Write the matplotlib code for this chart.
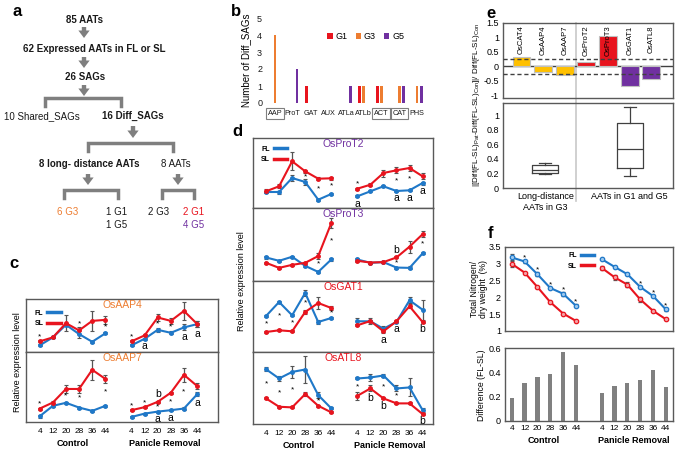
import numpy as np
import matplotlib
matplotlib.use('Agg')
import matplotlib.pyplot as plt
from matplotlib.lines import Line2D

plt.rcParams['font.family'] = ['Liberation Sans', 'DejaVu Sans']

"""
Data
"""

BLUE = '#1f78c8'
RED = '#e8141e'
ORANGE = '#ed7d31'
PURPLE = '#7030a0'
GOLD = '#ffc000'
FRAME = '#595959'

# panel b
B_CATS = ['AAP', 'ProT', 'GAT', 'AUX', 'ATLa', 'ATLb', 'ACT', 'CAT', 'PHS']
B_G1 = [0, 0, 1, 0, 0, 1, 1, 0, 0]
B_G3 = [4, 0, 0, 0, 0, 1, 1, 1, 1]
B_G5 = [0, 2, 0, 0, 1, 0, 0, 1, 1]
B_BOXED = ['AAP', 'ACT', 'CAT']

# panels c, d: 6 control days then 6 panicle removal days
DAYS = ['4', '12', '20', '28', '36', '44']
GROUPS = ['Control', 'Panicle Removal']

AAP4_FL = [0.67, 1.47, 2.73, 1.8, 1.03, 1.87, 0.67, 1.33, 2.23, 1.93, 2.47, 2.8]
AAP4_FL_ERR = [0.1, 0.1, 0.15, 0.35, 0.1, 0.1, 0.1, 0.1, 0.2, 0.15, 0.3, 0.3]
AAP4_SL = [1.07, 1.47, 2.9, 2.17, 3.13, 3.23, 1.07, 1.67, 3.47, 3.13, 4.13, 2.83]
AAP4_SL_ERR = [0.1, 0.1, 0.8, 0.35, 1.0, 0.4, 0.1, 0.1, 0.4, 0.3, 0.9, 0.3]
AAP4_STARS = [0, 3, 5, 6, 8, 9]
AAP4_LETTERS = [(7, 'a', 'below'), (10, 'a', 'below'), (11, 'a', 'below')]

AAP7_FL = [0.57, 1.6, 1.9, 1.43, 1.1, 1.6, 0.5, 0.83, 1.03, 1.17, 1.33, 2.73]
AAP7_FL_ERR = [0.15, 0.1, 0.1, 0.1, 0.1, 0.1, 0.1, 0.1, 0.1, 0.1, 0.15, 0.2]
AAP7_SL = [1.33, 1.93, 3.27, 3.27, 5.17, 4.27, 1.17, 1.47, 2.0, 2.9, 4.67, 3.57]
AAP7_SL_ERR = [0.1, 0.1, 0.35, 0.35, 1.0, 0.4, 0.1, 0.1, 0.1, 0.1, 0.7, 0.3]
AAP7_STARS = [0, 2, 3, 5, 6, 7, 8, 9, 10]
AAP7_LETTERS = [(8, 'b', 'above'), (8, 'a', 'below'), (9, 'a', 'below'), (11, 'a', 'below')]

PROT2_FL = [1.6, 1.6, 3.0, 2.6, 0.83, 1.4, 1.17, 1.67, 2.17, 1.7, 1.77, 2.5]
PROT2_FL_ERR = [0.1, 0.15, 0.3, 0.3, 0.1, 0.1, 0.1, 0.1, 0.1, 0.1, 0.1, 0.15]
PROT2_SL = [1.67, 2.17, 4.67, 3.67, 2.93, 2.97, 1.93, 2.33, 3.5, 3.77, 4.0, 3.17]
PROT2_SL_ERR = [0.2, 0.2, 0.9, 0.15, 0.15, 0.15, 0.1, 0.15, 0.35, 0.3, 0.3, 0.3]
PROT2_STARS = [3, 4, 5, 6, 9, 10]
PROT2_LETTERS = [(6, 'a', 'below'), (9, 'a', 'below'), (10, 'a', 'below'), (11, 'a', 'below')]

PROT3_FL = [2.33, 2.0, 2.4, 1.5, 0.9, 2.13, 2.13, 1.8, 1.87, 1.33, 1.3, 2.73]
PROT3_FL_ERR = [0.15, 0.1, 0.1, 0.1, 0.1, 0.15, 0.15, 0.1, 0.1, 0.1, 0.15, 0.1]
PROT3_SL = [1.8, 1.3, 1.6, 1.8, 2.47, 5.73, 2.0, 1.83, 1.87, 2.33, 3.4, 4.63]
PROT3_SL_ERR = [0.1, 0.1, 0.1, 0.1, 0.3, 0.5, 0.1, 0.1, 0.1, 0.1, 0.6, 0.3]
PROT3_STARS = [4, 5, 9, 11]
PROT3_LETTERS = [(9, 'b', 'above')]

GAT1_FL = [3.6, 5.0, 3.67, 5.9, 3.0, 3.4, 3.07, 3.07, 2.33, 3.0, 5.17, 4.23]
GAT1_FL_ERR = [0.1, 0.1, 0.1, 0.3, 0.2, 0.1, 0.3, 0.3, 0.3, 0.1, 0.3, 1.0]
GAT1_SL = [2.0, 2.17, 2.07, 4.0, 4.9, 4.4, 2.67, 3.1, 2.07, 3.07, 4.57, 3.0]
GAT1_SL_ERR = [0.1, 0.1, 0.1, 0.2, 0.6, 0.2, 0.1, 0.1, 0.2, 0.1, 0.2, 0.1]
GAT1_STARS = [0, 1, 2, 3, 5]
GAT1_LETTERS = [(8, 'a', 'below'), (9, 'a', 'below'), (11, 'b', 'below')]

ATL8_FL = [5.5, 4.57, 5.23, 5.47, 2.9, 1.57, 4.57, 4.67, 4.87, 3.57, 3.67, 1.4]
ATL8_FL_ERR = [0.2, 0.3, 0.6, 1.4, 0.3, 0.1, 0.1, 0.4, 0.2, 0.3, 0.9, 0.2]
ATL8_SL = [2.57, 1.73, 1.67, 3.0, 1.83, 1.17, 2.83, 3.57, 2.57, 2.07, 2.07, 1.0]
ATL8_SL_ERR = [0.1, 0.1, 0.1, 0.2, 0.1, 0.1, 0.4, 0.3, 0.1, 0.1, 0.1, 0.1]
ATL8_STARS = [0, 1, 2, 4, 6, 8, 9]
ATL8_LETTERS = [(7, 'b', 'below'), (8, 'b', 'below'), (11, 'b', 'below')]

# panel e
E_GENES = ['OsCAT4', 'OsAAP4', 'OsAAP7', 'OsProT2', 'OsProT3', 'OsGAT1', 'OsATL8']
E_VALUES = [0.32, -0.2, -0.29, 0.14, 1.06, -0.67, -0.43]
E_COLORS = [GOLD, GOLD, GOLD, RED, RED, PURPLE, PURPLE]
E_THRESH = [0.25, -0.28]
E_BOX_LABELS = ['Long-distance\nAATs in G3', 'AATs in G1 and G5']
E_BOX_LOW = [0.19, 0.17]
E_BOX_Q1 = [0.2, 0.28]
E_BOX_MED = [0.25, 0.53]
E_BOX_Q3 = [0.32, 0.89]
E_BOX_HIGH = [0.34, 1.12]

# panel f
F_FL = [3.19, 3.07, 2.69, 2.28, 2.11, 1.75, 3.14, 2.91, 2.69, 2.31, 2.04, 1.64]
F_FL_ERR = [0.1, 0.04, 0.06, 0.04, 0.06, 0.04, 0.03, 0.03, 0.03, 0.04, 0.04, 0.03]
F_SL = [3.0, 2.74, 2.31, 1.86, 1.52, 1.3, 2.88, 2.6, 2.38, 1.94, 1.6, 1.35]
F_SL_ERR = [0.1, 0.03, 0.03, 0.03, 0.03, 0.03, 0.05, 0.07, 0.08, 0.07, 0.03, 0.03]
F_STARS = [1, 2, 3, 4, 5, 9, 10, 11]
F_DIFF = [0.19, 0.31, 0.36, 0.39, 0.57, 0.46, 0.23, 0.29, 0.31, 0.34, 0.42, 0.28]

X = np.array([0, 1, 2, 3, 4, 5, 7, 8, 9, 10, 11, 12])
GROUP_CENTERS = [2.5, 9.5]

"""
Helpers
"""

W, H = 675, 449
fig = plt.figure(figsize=(W / 100, H / 100), dpi=100)


def add_ax(x0, y0, x1, y1):
    return fig.add_axes([x0 / W, 1 - y1 / H, (x1 - x0) / W, (y1 - y0) / H])


def frame(ax, color=FRAME):
    for sp in ax.spines.values():
        sp.set_color(color)
        sp.set_linewidth(1)


def fl_sl_legend(ax, anchor):
    handles = [Line2D([], [], color=BLUE, lw=2.5), Line2D([], [], color=RED, lw=2.5)]
    ax.legend(handles, ['FL', 'SL'], loc='upper left', bbox_to_anchor=anchor,
              frameon=False, markerfirst=False, prop=dict(size=5, weight='bold'),
              handlelength=2.0, handletextpad=0.5, labelspacing=0.5, borderaxespad=0)


def group_labels(ax, dy):
    for xc, name in zip(GROUP_CENTERS, GROUPS):
        ax.annotate(name, xy=(xc, 0), xycoords=('data', 'axes fraction'),
                    xytext=(0, dy), textcoords='offset points', ha='center',
                    va='top', fontsize=6.5, fontweight='bold')


def expr_panel(ax, title, tcolor, fl, fl_err, sl, sl_err, stars, letters, ymax, xlim,
               bottom=False):
    fl, sl = np.array(fl), np.array(sl)
    fl_err, sl_err = np.array(fl_err), np.array(sl_err)
    for g in (slice(0, 6), slice(6, 12)):
        for y, e, c in ((fl, fl_err, BLUE), (sl, sl_err, RED)):
            ax.errorbar(X[g], y[g], yerr=e[g], color=c, lw=1.5, marker='o', ms=2.5,
                        ecolor='#555555', elinewidth=0.9, capsize=1.2, capthick=0.8)
    for i in stars:
        if abs(fl[i] - sl[i]) > 0.8:
            ax.text(X[i], (fl[i] + sl[i]) / 2, '*', ha='center', va='center', fontsize=6)
        else:
            top = max(fl[i] + fl_err[i], sl[i] + sl_err[i])
            ax.annotate('*', xy=(X[i], top), xytext=(0, 0), textcoords='offset points',
                        ha='center', va='bottom', fontsize=6)
    for i, s, side in letters:
        if side == 'below':
            y = min(fl[i] - fl_err[i], sl[i] - sl_err[i])
            ax.annotate(s, xy=(X[i], y), xytext=(0, -1), textcoords='offset points',
                        ha='center', va='top', fontsize=7.5)
        else:
            y = max(fl[i] + fl_err[i], sl[i] + sl_err[i])
            ax.annotate(s, xy=(X[i], y), xytext=(0, 1), textcoords='offset points',
                        ha='center', va='bottom', fontsize=7.5)
    ax.text(0.5, 0.98, title, transform=ax.transAxes, ha='center', va='top',
            fontsize=7.5, color=tcolor)
    ax.set_ylim(0, ymax)
    ax.set_xlim(*xlim)
    ax.set_yticks([])
    frame(ax)
    if bottom:
        ax.set_xticks(X)
        ax.set_xticklabels(DAYS * 2, fontsize=6)
        ax.tick_params(axis='x', length=0, pad=4)
        group_labels(ax, -12)
    else:
        ax.set_xticks([])


"""
Panel a (flow chart) and panel letters
"""

ov = fig.add_axes([0, 0, 1, 1])
ov.set_xlim(0, W)
ov.set_ylim(H, 0)
ov.axis('off')

GRAY = '#7f7f7f'
for lab, (x, y) in zip('abcdef', [(17, 12), (236, 12), (14, 263), (237, 132),
                                  (491, 13), (491, 233)]):
    ov.text(x, y, lab, fontsize=12, fontweight='bold', ha='center', va='center')

flow = [('85 AATs', 84, 20, 'bold', '#1a1a1a'),
        ('62 Expressed AATs in FL or SL', 94, 49, 'bold', '#1a1a1a'),
        ('26 SAGs', 85, 77, 'bold', '#1a1a1a'),
        ('10 Shared_SAGs', 42, 116, 'normal', '#1a1a1a'),
        ('16 Diff_SAGs', 133, 116, 'bold', '#1a1a1a'),
        ('8 long- distance AATs', 89, 164, 'bold', '#1a1a1a'),
        ('8 AATs', 176, 164, 'normal', '#1a1a1a'),
        ('6 G3', 68, 212, 'normal', ORANGE),
        ('1 G1', 117, 212, 'normal', '#1a1a1a'),
        ('1 G5', 117, 225, 'normal', '#1a1a1a'),
        ('2 G3', 159, 212, 'normal', '#1a1a1a'),
        ('2 G1', 194, 212, 'normal', RED),
        ('4 G5', 194, 225, 'normal', PURPLE)]
for s, x, y, w, c in flow:
    ov.text(x, y, s, ha='center', va='center', fontsize=7, fontweight=w, color=c)

for x, y0, y1 in [(84, 27, 38), (84, 57, 68), (84, 85, 96), (133, 126, 138),
                  (88, 174, 185), (178, 174, 185)]:
    ov.annotate('', xy=(x, y1), xytext=(x, y0),
                arrowprops=dict(arrowstyle='simple,head_width=0.9,head_length=0.6,tail_width=0.35',
                                fc=GRAY, ec='none', mutation_scale=9, shrinkA=0, shrinkB=0))

for x0, x1, y in [(45, 121, 98), (88, 173, 143), (64, 118, 190), (162, 194, 190)]:
    ov.plot([x0, x0, x1, x1], [y + 8, y, y, y + 8], color=GRAY, lw=2.5,
            solid_joinstyle='miter')

"""
Panel b
"""

axb = add_ax(267, 18, 425, 103)
xb = np.arange(len(B_CATS))
axb.bar(xb - 0.24, B_G1, 0.16, color=RED, label='G1')
axb.bar(xb, B_G3, 0.16, color=ORANGE, label='G3')
axb.bar(xb + 0.24, B_G5, 0.16, color=PURPLE, label='G5')
axb.set_xlim(-0.45, 8.45)
axb.set_ylim(0, 5)
axb.set_yticks(range(6))
axb.set_xticks(xb)
axb.set_xticklabels(B_CATS, fontsize=5.2)
for lab in axb.get_xticklabels():
    if lab.get_text() in B_BOXED:
        lab.set_bbox(dict(boxstyle='square,pad=0.3', fc='none', ec=GRAY, lw=0.8))
axb.tick_params(length=0, colors='#1a1a1a')
axb.tick_params(axis='y', labelsize=6.5)
axb.tick_params(axis='x', pad=5)
for sp in axb.spines.values():
    sp.set_visible(False)
axb.set_ylabel('Number of Diff_SAGs', fontsize=7, labelpad=4)
axb.legend(loc='center left', bbox_to_anchor=(0.36, 0.78), ncol=3, frameon=False,
           fontsize=6.5, handlelength=0.6, handleheight=0.6, handletextpad=0.3,
           columnspacing=0.9, borderaxespad=0)

"""
Panel c
"""

cx = (-1.05, 13.6)
axc1 = add_ax(26, 299, 218, 352)
axc2 = add_ax(26, 352, 218, 422)
expr_panel(axc1, 'OsAAP4', ORANGE, AAP4_FL, AAP4_FL_ERR, AAP4_SL, AAP4_SL_ERR,
           AAP4_STARS, AAP4_LETTERS, 5.33, cx)
expr_panel(axc2, 'OsAAP7', ORANGE, AAP7_FL, AAP7_FL_ERR, AAP7_SL, AAP7_SL_ERR,
           AAP7_STARS, AAP7_LETTERS, 6.93, cx, bottom=True)
fl_sl_legend(axc1, (0.03, 0.85))
fig.text(18 / W, 1 - 362 / H, 'Relative expression level', rotation=90,
         ha='center', va='center', fontsize=6.5)

"""
Panel d
"""

dx = (-1.0, 12.8)
d_edges = [138, 208, 281, 352, 424]
d_panels = [('OsProT2', PURPLE, PROT2_FL, PROT2_FL_ERR, PROT2_SL, PROT2_SL_ERR,
             PROT2_STARS, PROT2_LETTERS, 7.0),
            ('OsProT3', PURPLE, PROT3_FL, PROT3_FL_ERR, PROT3_SL, PROT3_SL_ERR,
             PROT3_STARS, PROT3_LETTERS, 7.23),
            ('OsGAT1', RED, GAT1_FL, GAT1_FL_ERR, GAT1_SL, GAT1_SL_ERR,
             GAT1_STARS, GAT1_LETTERS, 7.1),
            ('OsATL8', RED, ATL8_FL, ATL8_FL_ERR, ATL8_SL, ATL8_SL_ERR,
             ATL8_STARS, ATL8_LETTERS, 7.23)]
d_axes = []
for k, p in enumerate(d_panels):
    ax = add_ax(253, d_edges[k], 433, d_edges[k + 1])
    expr_panel(ax, *p, dx, bottom=(k == 3))
    d_axes.append(ax)
fl_sl_legend(d_axes[0], (0.03, 0.93))
fig.text(242 / W, 1 - 281 / H, 'Relative expression level', rotation=90,
         ha='center', va='center', fontsize=6.5)

"""
Panel e
"""

ex = (-0.85, 7.0)
axe1 = add_ax(503, 23, 673, 98)
xe = np.arange(len(E_GENES))
axe1.bar(xe, E_VALUES, 0.82, color=E_COLORS, edgecolor='#c0c0c0', lw=0.8, zorder=2)
for x, g in zip(xe, E_GENES):
    axe1.text(x, 1.42, g, rotation=90, ha='center', va='top', fontsize=5.5, zorder=3)
axe1.axhline(0, color='#404040', lw=1, zorder=1)
for t in E_THRESH:
    axe1.axhline(t, color='#404040', lw=1, ls=(0, (3, 2)), zorder=3)
axe1.axvline(2.5, ymin=-0.07, ymax=1, color='#c8c8c8', lw=1.2, clip_on=False, zorder=0)
axe1.set_xlim(*ex)
axe1.set_ylim(-1.1, 1.5)
axe1.set_xticks([])
axe1.set_yticks([1.5, 1, 0.5, 0, -0.5, -1])
axe1.set_yticklabels(['1.5', '1', '0.5', '0', '-0.5', '-1'])
axe1.tick_params(labelsize=6.5, length=0, pad=3)
frame(axe1)

axe2 = add_ax(503, 103, 673, 188)
stats = [dict(whislo=lo, q1=q1, med=m, q3=q3, whishi=hi, label=lab)
         for lo, q1, m, q3, hi, lab in zip(E_BOX_LOW, E_BOX_Q1, E_BOX_MED, E_BOX_Q3,
                                          E_BOX_HIGH, E_BOX_LABELS)]
axe2.bxp(stats, positions=[1.1, 5.0], widths=1.2, showfliers=False, capwidths=0.55,
         boxprops=dict(color='#404040', lw=0.9), whiskerprops=dict(color='#404040', lw=0.9),
         capprops=dict(color='#404040', lw=0.9), medianprops=dict(color='#404040', lw=0.9))
axe2.axvline(2.5, ymin=-0.15, ymax=1, color='#c8c8c8', lw=1.2, clip_on=False, zorder=0)
axe2.set_xlim(*ex)
axe2.set_ylim(0, 1.17)
axe2.set_yticks([0, 0.2, 0.4, 0.6, 0.8, 1])
axe2.set_yticklabels(['0', '0.2', '0.4', '0.6', '0.8', '1'])
axe2.tick_params(labelsize=6.5, length=0, pad=3)
axe2.tick_params(axis='x', labelsize=6.5, pad=3)
frame(axe2)
fig.text(477 / W, 1 - 105 / H,
         r'|[Diff(FL-SL)$_{\mathregular{Pat}}$-Diff(FL-SL)$_{\mathregular{Con}}$]|/ Diff(FL-SL)$_{\mathregular{Con}}$',
         rotation=90, ha='center', va='center', fontsize=5.8)

"""
Panel f
"""

fx = (-0.52, 12.55)
axf1 = add_ax(505, 247, 673, 331)
for g in (slice(0, 6), slice(6, 12)):
    for y, e, c, mfc in ((F_FL, F_FL_ERR, BLUE, '#9cc8ee'), (F_SL, F_SL_ERR, RED, '#f5a0a4')):
        axf1.errorbar(X[g], np.array(y)[g], yerr=np.array(e)[g], color=c, lw=1.5,
                      marker='o', ms=3.2, mfc=mfc, mec=c, mew=0.9,
                      ecolor='#555555', elinewidth=0.8, capsize=1.2, capthick=0.7)
for i in F_STARS:
    axf1.annotate('*', xy=(X[i], F_FL[i] + F_FL_ERR[i]), xytext=(0, -1),
                  textcoords='offset points', ha='center', va='bottom', fontsize=6)
axf1.set_xlim(*fx)
axf1.set_ylim(1, 3.5)
axf1.set_xticks([])
axf1.set_yticks([1, 1.5, 2, 2.5, 3, 3.5])
axf1.set_yticklabels(['1', '1.5', '2', '2.5', '3', '3.5'])
axf1.tick_params(labelsize=6.5, length=0, pad=3)
frame(axf1)
fl_sl_legend(axf1, (0.36, 0.97))
fig.text(479 / W, 1 - 289 / H, 'Total Nitrogen/\ndry weight  (%)', rotation=90,
         ha='center', va='center', fontsize=6.2, linespacing=1.05)

axf2 = add_ax(505, 348, 673, 421)
axf2.bar(X, F_DIFF, 0.33, color='#808080')
axf2.set_xlim(*fx)
axf2.set_ylim(0, 0.6)
axf2.set_yticks([0, 0.2, 0.4, 0.6])
axf2.set_yticklabels(['0', '0.2', '0.4', '0.6'])
axf2.set_xticks(X)
axf2.set_xticklabels(DAYS * 2, fontsize=6)
axf2.tick_params(labelsize=6.5, length=0, pad=3)
axf2.tick_params(axis='x', labelsize=6)
frame(axf2)
group_labels(axf2, -11)
fig.text(481 / W, 1 - 385 / H, 'Difference (FL-SL)', rotation=90,
         ha='center', va='center', fontsize=6.2)

fig.savefig('out.png', dpi=100)
plt.close(fig)
